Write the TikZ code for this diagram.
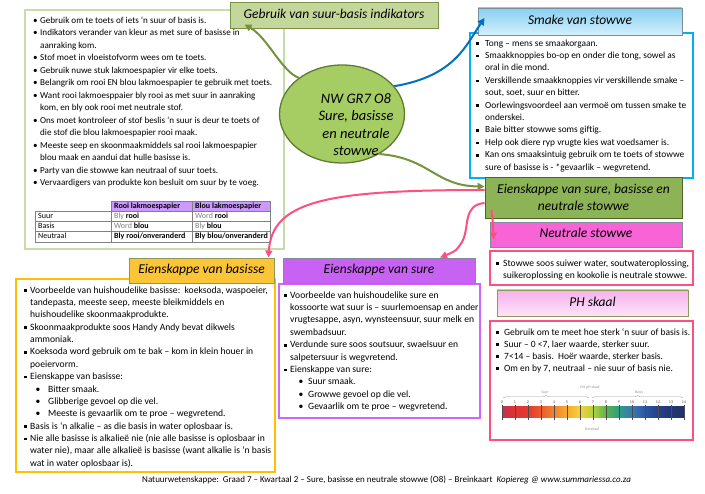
\documentclass[tikz,border=0pt]{standalone}
\usepackage{fontspec}
\setmainfont{Carlito}
\usetikzlibrary{shapes.geometric,arrows.meta,shadows,decorations.pathreplacing}
\definecolor{tlborder}{HTML}{C6DCAA}
\definecolor{gtitle}{HTML}{C4D79B}
\definecolor{gborder}{HTML}{7A9146}
\definecolor{ellfill}{HTML}{A6CC64}
\definecolor{ellborder}{HTML}{5E7B34}
\definecolor{arrgreen}{HTML}{76923C}
\definecolor{arrblue}{HTML}{0070C0}
\definecolor{arrpink}{HTML}{FF4F81}
\definecolor{cyanb}{HTML}{00B0F0}
\definecolor{bluetop}{HTML}{86D0F2}
\definecolor{bluebot}{HTML}{D4F0FC}
\definecolor{greyb}{HTML}{7F8C99}
\definecolor{eienfill}{HTML}{8DB357}
\definecolor{eienborder}{HTML}{4F6228}
\definecolor{neutfill}{HTML}{F864D6}
\definecolor{pinkb}{HTML}{FF4F81}
\definecolor{phtop}{HTML}{F6B0EC}
\definecolor{phbot}{HTML}{FDE4F9}
\definecolor{olgrey}{HTML}{8A9A5B}
\definecolor{basfill}{HTML}{FCC537}
\definecolor{basborder}{HTML}{FFC000}
\definecolor{surefill}{HTML}{C862F2}
\definecolor{sureborder}{HTML}{CC66FF}
\definecolor{tabhead}{HTML}{CC99FF}
\definecolor{tabline}{HTML}{808080}
\definecolor{phg}{HTML}{9A9A9A}
\definecolor{ph0}{HTML}{C8304C}
\definecolor{ph1}{HTML}{DC3535}
\definecolor{ph2}{HTML}{E43A2E}
\definecolor{ph3}{HTML}{EA5C2E}
\definecolor{ph4}{HTML}{EF8431}
\definecolor{ph5}{HTML}{F5AC31}
\definecolor{ph6}{HTML}{F7D03A}
\definecolor{ph7}{HTML}{B2CF44}
\definecolor{ph8}{HTML}{5AB44A}
\definecolor{ph9}{HTML}{2E9C84}
\definecolor{ph10}{HTML}{3A78B5}
\definecolor{ph11}{HTML}{2A56A2}
\definecolor{ph12}{HTML}{23428A}
\definecolor{ph13}{HTML}{233676}
\definecolor{ph14}{HTML}{263066}
\newcommand\sqb[1]{\makebox[#1][l]{\raisebox{1.2pt}{\rule{2.6pt}{2.6pt}}}}
\newcommand\rdb[1]{\makebox[#1][l]{\textbullet}}
\newcommand\fl{\rule{0pt}{9pt}}
\newcommand\ttlfont{\fontsize{13.5pt}{17pt}\selectfont\itshape}
\begin{document}
\begin{tikzpicture}[x=1pt,y=-1pt,
  cbox/.style={draw=#1, line width=2.4pt, inner sep=0},
  ttl/.style={draw=#1, line width=0.9pt, inner sep=0, font=\ttlfont, text height=9.5pt, text depth=3pt,
    drop shadow={shadow xshift=1.3pt, shadow yshift=-1.3pt, opacity=0.35}},
  txt/.style={anchor=north west, inner sep=0, align=left},
  garrow/.style={draw=arrgreen, line width=2pt, -{Triangle[length=7pt,width=7pt]}},
  barrow/.style={draw=arrblue, line width=2pt, -{Triangle[length=7pt,width=7pt]}},
  parrow/.style={draw=arrpink, line width=2pt, -{Triangle[length=7pt,width=7pt]}},
  tabtxt/.style={anchor=base west, inner sep=0, font=\fontsize{8pt}{9pt}\selectfont},
  phlab/.style={inner sep=0, text=phg, font=\fontsize{4pt}{5pt}\selectfont}]
\useasboundingbox (0,0) rectangle (705,494);
\fill[white] (0,0) rectangle (705,494);

% ---------- content boxes ----------
\node[cbox=tlborder, minimum width=259pt, minimum height=239pt] (tlbox) at (154.5,129.5) {};
\node[cbox=cyanb, minimum width=223pt, minimum height=145pt] (smbox) at (581.5,105.5) {};
\node[cbox=pinkb, minimum width=203pt, minimum height=34pt] (nbox) at (591.5,268) {};
\node[cbox=pinkb, minimum width=203pt, minimum height=119pt] (phbox) at (591.5,380.5) {};
\node[cbox=basborder, minimum width=259pt, minimum height=193pt] (bbox) at (145.5,375.5) {};
\node[cbox=sureborder, minimum width=201pt, minimum height=134pt] (sbox) at (379.5,351) {};

% ---------- titles ----------
\node[ttl=gborder, fill=gtitle, minimum width=208pt, minimum height=26pt] (gt) at (334,15) {Gebruik van suur-basis indikators};
\node[ttl=greyb, top color=bluetop, bottom color=bluebot, minimum width=204pt, minimum height=27pt] (smt) at (580,21.5) {Smake van stowwe};
\node[draw=eienborder, line width=0.9pt, fill=eienfill, inner sep=0, minimum width=197pt, minimum height=41pt,
  align=center, font=\ttlfont, drop shadow={shadow xshift=1.3pt, shadow yshift=-1.3pt, opacity=0.35}] (e) at (583.5,197.5)
  {Eienskappe van sure, basisse en\\neutrale stowwe};
\node[ttl=greyb, fill=neutfill, minimum width=192pt, minimum height=25pt] (ns) at (586,234.5) {Neutrale stowwe};
\node[ttl=olgrey, top color=phtop, bottom color=phbot, minimum width=191pt, minimum height=26pt] (pht) at (592.5,303) {PH skaal};
\node[ttl=olgrey, fill=basfill, minimum width=145pt, minimum height=25pt] (bt) at (201.5,270.5) {Eienskappe van basisse};
\node[ttl=greyb, fill=surefill, minimum width=192pt, minimum height=25pt] (st) at (379,270.5) {Eienskappe van sure};

% ---------- centre ----------
\node[ellipse, draw=ellborder, fill=ellfill, line width=1.3pt, minimum width=125pt, minimum height=98pt, inner sep=0] (c) at (342,114) {};
\node[anchor=north, inner sep=0, align=center, font=\fontsize{14.5pt}{17.5pt}\selectfont\itshape] (ctext) at (356,92)
  {\rule{0pt}{11pt}NW GR7 O8\\Sure, basisse\\en neutrale\\stowwe};

% ---------- texts ----------
\node[txt, font=\fontsize{9.1pt}{12.5pt}\selectfont] (tltext) at (33,14) {\fl\rdb{7pt}Gebruik om te toets of iets ‘n suur of basis is.\\
\rdb{7pt}Indikators verander van kleur as met sure of basisse in\\
\hspace*{7pt}aanraking kom.\\
\rdb{7pt}Stof moet in vloeistofvorm wees om te toets.\\
\rdb{7pt}Gebruik nuwe stuk lakmoespapier vir elke toets.\\
\rdb{7pt}Belangrik om rooi EN blou lakmoespapier te gebruik met toets.\\
\rdb{7pt}Want rooi lakmoesppaier bly rooi as met suur in aanraking\\
\hspace*{7pt}kom, en bly ook rooi met neutrale stof.\\
\rdb{7pt}Ons moet kontroleer of stof beslis ‘n suur is deur te toets of\\
\hspace*{7pt}die stof die blou lakmoespapier rooi maak.\\
\rdb{7pt}Meeste seep en skoonmaakmiddels sal rooi lakmoespapier\\
\hspace*{7pt}blou maak en aandui dat hulle basisse is.\\
\rdb{7pt}Party van die stowwe kan neutraal of suur toets.\\
\rdb{7pt}Vervaardigers van produkte kon besluit om suur by te voeg.};

\node[txt, font=\fontsize{9.35pt}{12.4pt}\selectfont] (smtext) at (476,37) {\fl\sqb{9pt}Tong – mens se smaakorgaan.\\
\sqb{9pt}Smaakknoppies bo-op en onder die tong, sowel as\\
\hspace*{9pt}oral in die mond.\\
\sqb{9pt}Verskillende smaakknoppies vir verskillende smake –\\
\hspace*{9pt}sout, soet, suur en bitter.\\
\sqb{9pt}Oorlewingsvoordeel aan vermoë om tussen smake te\\
\hspace*{9pt}onderskei.\\
\sqb{9pt}Baie bitter stowwe soms giftig.\\
\sqb{9pt}Help ook diere ryp vrugte kies wat voedsamer is.\\
\sqb{9pt}Kan ons smaaksintuig gebruik om te toets of stowwe\\
\hspace*{9pt}sure of basisse is - *gevaarlik – wegvretend.};

\node[txt, font=\fontsize{9.6pt}{12pt}\selectfont] (ntext) at (496,257) {\fl\sqb{7pt}Stowwe soos suiwer water, soutwateroplossing,\\
\hspace*{7pt}suikeroplossing en kookolie is neutrale stowwe.};

\node[txt, font=\fontsize{9.5pt}{12pt}\selectfont] (phtext) at (496,326) {\fl\sqb{8pt}Gebruik om te meet hoe sterk ‘n suur of basis is.\\
\sqb{8pt}Suur – 0 <7, laer waarde, sterker suur.\\
\sqb{8pt}7<14 – basis.\ \ Hoër waarde, sterker basis.\\
\sqb{8pt}Om en by 7, neutraal – nie suur of basis nie.};

\node[txt, font=\fontsize{9.6pt}{12.35pt}\selectfont] (btext) at (24,284) {\fl\sqb{6pt}Voorbeelde van huishoudelike basisse:\ \ koeksoda, waspoeier,\\
\hspace*{6pt}tandepasta, meeste seep, meeste bleikmiddels en\\
\hspace*{6pt}huishoudelike skoonmaakprodukte.\\
\sqb{6pt}Skoonmaakprodukte soos Handy Andy bevat dikwels\\
\hspace*{6pt}ammoniak.\\
\sqb{6pt}Koeksoda word gebruik om te bak – kom in klein houer in\\
\hspace*{6pt}poeiervorm.\\
\sqb{6pt}Eienskappe van basisse:\\
\hspace*{11.5pt}\rdb{12.5pt}Bitter smaak.\\
\hspace*{11.5pt}\rdb{12.5pt}Glibberige gevoel op die vel.\\
\hspace*{11.5pt}\rdb{12.5pt}Meeste is gevaarlik om te proe – wegvretend.\\
\sqb{6pt}Basis is ‘n alkalie – as die basis in water oplosbaar is.\\
\sqb{6pt}Nie alle basisse is alkalieë nie (nie alle basisse is oplosbaar in\\
\hspace*{6pt}water nie), maar alle alkalieë is basisse (want alkalie is ‘n basis\\
\hspace*{6pt}wat in water oplosbaar is).};

\node[txt, font=\fontsize{9.6pt}{12.4pt}\selectfont] (stext) at (284,289) {\fl\sqb{6pt}Voorbeelde van huishoudelike sure en\\
\hspace*{6pt}kossoorte wat suur is – suurlemoensap en ander\\
\hspace*{6pt}vrugtesappe, asyn, wynsteensuur, suur melk en\\
\hspace*{6pt}swembadsuur.\\
\sqb{6pt}Verdunde sure soos soutsuur, swaelsuur en\\
\hspace*{6pt}salpetersuur is wegvretend.\\
\sqb{6pt}Eienskappe van sure:\\
\hspace*{14.5pt}\rdb{9.5pt}Suur smaak.\\
\hspace*{14.5pt}\rdb{9.5pt}Growwe gevoel op die vel.\\
\hspace*{14.5pt}\rdb{9.5pt}Gevaarlik om te proe – wegvretend.};

% ---------- table ----------
\fill[tabhead] (111,201) rectangle (270,211);
\draw[tabline, line width=0.7pt] (111,201) rectangle (270,242);
\draw[tabline, line width=0.7pt] (35,211) rectangle (270,242);
\draw[tabline, line width=0.7pt] (35,221) -- (270,221) (35,231) -- (270,231) (192,201) -- (192,242);
\node[tabtxt] (h1) at (114,208.5) {\bfseries Rooi lakmoespapier};
\node[tabtxt] (h2) at (195,208.5) {\bfseries Blou lakmoespapier};
\node[tabtxt] (r1) at (38,218.5) {Suur};
\node[tabtxt] (r2) at (38,228.5) {Basis};
\node[tabtxt] (r3) at (38,239) {Neutraal};
\node[tabtxt] (c11) at (114,218.5) {\textcolor{tabline}{Bly} \bfseries rooi};
\node[tabtxt] (c12) at (195,218.5) {\textcolor{tabline}{Word} \bfseries rooi};
\node[tabtxt] (c21) at (114,228.5) {\textcolor{tabline}{Word} \bfseries blou};
\node[tabtxt] (c22) at (195,228.5) {\textcolor{tabline}{Bly} \bfseries blou};
\node[tabtxt] (c31) at (114,239) {\bfseries Bly rooi/onveranderd};
\node[tabtxt] (c32) at (195,239) {\bfseries Bly blou/onveranderd};

% ---------- pH scale ----------
\foreach \i in {0,...,13} {
  \pgfmathtruncatemacro\j{\i+1}
  \shade[left color=ph\i, right color=ph\j] (502+13*\i,407) rectangle (515+13*\i,418);
}
\foreach \i in {0,...,14} {
  \draw[black!70, line width=0.3pt] (502+13*\i,405) -- (502+13*\i,420);
  \node[phlab, text=black!70] (pn\i) at (502+13*\i,402.5) {\i};
}
\draw[phg, line width=0.3pt, decorate, decoration={brace, amplitude=2.5pt}] (503,398) -- (589,398);
\draw[phg, line width=0.3pt, decorate, decoration={brace, amplitude=2.5pt}] (592,398) -- (683,398);
\node[phlab] (phtitle) at (590,387) {Dit pH skaal};
\node[phlab] (phsuur) at (545,392) {Suur};
\node[phlab] (phbasis) at (639,392) {Basis};
\node[phlab] (phneut) at (592,429) {Neutraal};

% ---------- footer ----------
\node[anchor=base west, inner sep=0, font=\fontsize{9pt}{11pt}\selectfont] (foot) at (142,483)
  {Natuurwetenskappe:\ \ Graad 7 – Kwartaal 2 – Sure, basisse en neutrale stowwe (O8) – Breinkaart\ \ \textit{Kopiereg @ www.summariessa.co.za}};

% ---------- connectors ----------
\draw[garrow] (c.140) .. controls (282,72) and (268,38) .. ([shift={(15,-4)}]gt.south west);
\draw[barrow] (c.28) .. controls (455,76) and (466,45) .. ([shift={(7,-3.5)}]smt.west);
\draw[garrow] (c.-47) .. controls (430,158) and (435,186) .. ([shift={(0,-11)}]e.west);
\draw[parrow] ([shift={(0,-7.5)}]e.west) .. controls (330,190) and (272,200) .. ([xshift=-6pt]bt.north east);
\draw[parrow] ([shift={(0,5.5)}]e.west) .. controls (462,205) and (470,228) .. (462,242) .. controls (456,251) .. ([xshift=61pt]st.north);
\draw[parrow] ([shift={(7,12.5)}]e.west) .. controls (493,224) .. ([shift={(4,18)}]ns.north west);
\end{tikzpicture}
\end{document}
